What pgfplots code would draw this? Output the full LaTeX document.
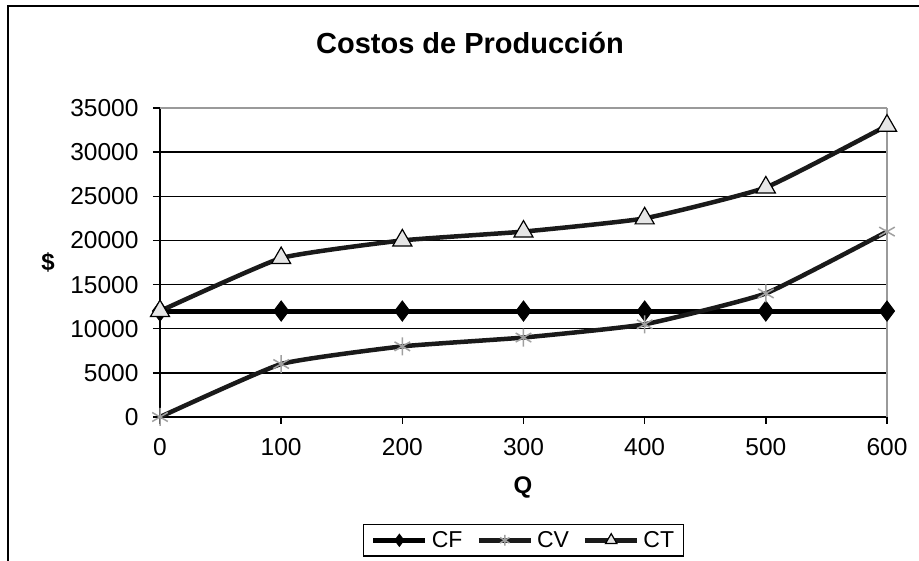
\documentclass[border=0pt]{standalone}
\usepackage{fontspec}
\setmainfont{Liberation Sans}
\usepackage{pgfplots}
\pgfplotsset{compat=1.18}
\definecolor{lineblack}{HTML}{1A1A1A}
\definecolor{cvgray}{HTML}{A0A0A0}
\definecolor{ctfill}{HTML}{E6E6E6}
\definecolor{framegray}{HTML}{9A9A9A}

\begin{document}
\begin{tikzpicture}[x=1pt,y=1pt]
\useasboundingbox (0,0) rectangle (919,561);
% chart area border
\draw[line width=2pt,black] (8,0) -- (8,555) -- (919,555);
\node[font=\bfseries\fontsize{29}{33}\selectfont] at (470,518) {Costos de Producción};
\node[font=\bfseries\fontsize{24}{28}\selectfont] at (48,299) {\$};
\node[font=\bfseries\fontsize{24}{28}\selectfont] at (523,74) {Q};
\begin{axis}[
  at={(160pt,144pt)}, anchor=south west,
  scale only axis, width=727pt, height=309pt,
  xmin=0, xmax=600, ymin=0, ymax=35000,
  xtick={0,100,...,600},
  ytick={0,5000,...,30000},
  extra y ticks={35000},
  extra y tick style={grid style={framegray, line width=1.5pt}},
  extra x ticks={600},
  extra x tick labels={},
  extra x tick style={grid=major, grid style={framegray, line width=1.5pt}, major tick length=0pt},
  axis x line*=bottom, axis y line*=left,
  axis line style={-, black, line width=1.5pt},
  tick align=outside, major tick length=7pt,
  tick style={black, line width=1.5pt},
  ymajorgrids, grid style={black, line width=1.3pt},
  ticklabel style={font=\fontsize{24.5}{28}\selectfont},
  xticklabel style={yshift=-11pt},
  yticklabel style={xshift=-11pt},
  /pgf/number format/assume math mode=true,
  /pgf/number format/set thousands separator={},
  scaled ticks=false,
  clip=false,
  legend columns=3,
  legend style={at={(0.5,-0.399)}, anchor=center, draw=black, line width=1.2pt,
    font=\fontsize{23}{27}\selectfont,
    /tikz/every even column/.append style={column sep=12pt},
    /tikz/every odd column/.append style={column sep=2pt},
    inner xsep=7pt, inner ysep=5pt},
  legend image code/.code={\draw[#1, mark repeat=2, mark phase=2,
    every mark/.append style={scale=0.6}] plot coordinates {(0pt,0pt) (26pt,0pt) (52pt,0pt)};},
]
\addplot[black, line width=5pt, mark=diamond*, mark size=10pt,
  mark options={solid, fill=black, line width=1pt}]
  coordinates {(0,12000)(100,12000)(200,12000)(300,12000)(400,12000)(500,12000)(600,12000)};
\addplot[lineblack, line width=4.5pt, smooth, tension=0.25, mark=asterisk, mark size=9pt,
  mark options={draw=cvgray, line width=1.5pt}]
  coordinates {(0,0)(100,6000)(200,8000)(300,9000)(400,10500)(500,14000)(600,21000)};
\addplot[lineblack, line width=4.5pt, smooth, tension=0.25, mark=triangle*, mark size=11pt,
  mark options={draw=black, fill=ctfill, line width=1.2pt}]
  coordinates {(0,12000)(100,18000)(200,20000)(300,21000)(400,22500)(500,26000)(600,33000)};
\legend{CF,CV,CT}
\end{axis}
\end{tikzpicture}
\end{document}
